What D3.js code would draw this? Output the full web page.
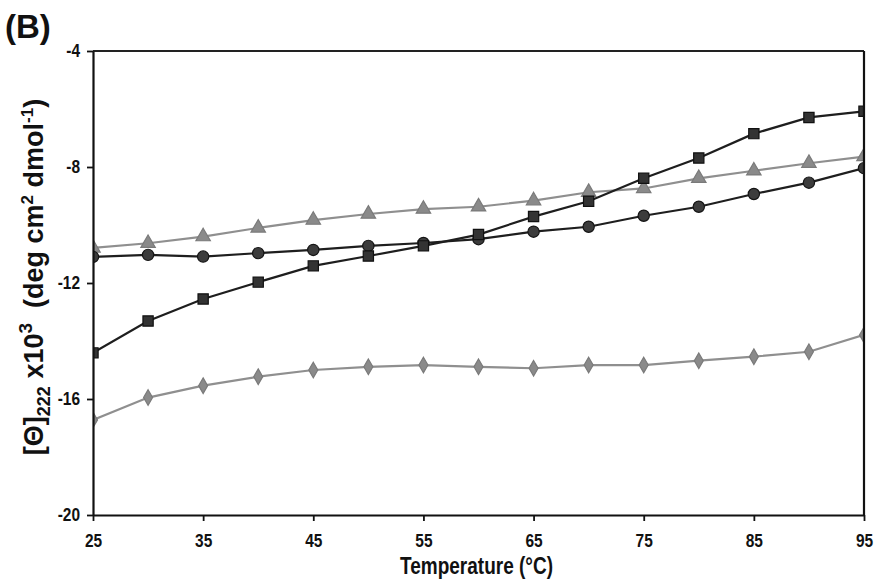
<!DOCTYPE html>
<html>
<head>
<meta charset="utf-8">
<script src="https://cdn.jsdelivr.net/npm/d3@7"></script>
<style>
  body { margin: 0; background: #fff; }
  svg { display: block; }
  .tick text { font-family: "Liberation Sans", Arial, sans-serif; font-weight: bold; font-size: 18px; fill: #111; }
</style>
</head>
<body>
<svg id="chart" width="876" height="587"></svg>
<script>
// temperature points (°C)
var temps = [25, 30, 35, 40, 45, 50, 55, 60, 65, 70, 75, 80, 85, 90, 95];
// [Θ]222 x10^3 values for each sample
var squares   = [-14.41, -13.31, -12.55, -11.97, -11.41, -11.07, -10.72, -10.33, -9.71, -9.18, -8.39, -7.69, -6.85, -6.29, -6.08];
var circles   = [-11.10, -11.03, -11.09, -10.97, -10.86, -10.72, -10.62, -10.49, -10.23, -10.06, -9.68, -9.37, -8.93, -8.54, -8.04];
var triangles = [-10.79, -10.63, -10.40, -10.10, -9.83, -9.62, -9.45, -9.37, -9.16, -8.87, -8.74, -8.39, -8.13, -7.87, -7.64];
var diamonds  = [-16.72, -15.95, -15.54, -15.23, -15.00, -14.89, -14.83, -14.89, -14.94, -14.83, -14.83, -14.68, -14.54, -14.37, -13.79];
var xTicks = [25, 35, 45, 55, 65, 75, 85, 95];
var yTicks = [-20, -16, -12, -8, -4];

var margin = {left: 93, right: 12, top: 51, bottom: 72};
var width = 876 - margin.left - margin.right;
var height = 587 - margin.top - margin.bottom;
// squeeze factor to imitate the narrow bold font of the original
var narrow = 0.86;

var svg = d3.select('#chart');
var g = svg.append('g').attr('transform', 'translate(' + margin.left + ',' + margin.top + ')');

var x = d3.scaleLinear().domain([25, 95]).range([0, width]);
var y = d3.scaleLinear().domain([-20, -4]).range([height, 0]);

g.append('clipPath').attr('id', 'plotclip')
  .append('rect').attr('width', width).attr('height', height);

// series, gray ones first so the dark lines sit on top
var series = [
  {values: diamonds,  shape: d3.symbolDiamond,  size: 70,  line: '#8f8f8f', fill: '#8a8a8a', stroke: '#7a7a7a'},
  {values: triangles, shape: d3.symbolTriangle, size: 90,  line: '#8f8f8f', fill: '#8a8a8a', stroke: '#7a7a7a'},
  {values: circles,   shape: d3.symbolCircle,   size: 100, line: '#1e1e1e', fill: '#3c3c3c', stroke: '#151515'},
  {values: squares,   shape: d3.symbolSquare,   size: 105, line: '#1e1e1e', fill: '#333333', stroke: '#111111'}
];

var plot = g.append('g').attr('clip-path', 'url(#plotclip)');
var line = d3.line()
  .x(function(d, i) { return x(temps[i]); })
  .y(function(d) { return y(d); });

series.forEach(function(s) {
  plot.append('path')
    .attr('d', line(s.values))
    .attr('fill', 'none')
    .attr('stroke', s.line)
    .attr('stroke-width', 2.2);
});
series.forEach(function(s) {
  plot.selectAll(null)
    .data(s.values)
    .enter()
    .append('path')
    .attr('transform', function(d, i) { return 'translate(' + x(temps[i]) + ',' + y(d) + ')'; })
    .attr('d', d3.symbol().type(s.shape).size(s.size))
    .attr('fill', s.fill)
    .attr('stroke', s.stroke)
    .attr('stroke-width', 1.2);
});

// frame top + right
g.append('line').attr('x1', 0).attr('x2', width).attr('y1', 0).attr('y2', 0)
  .attr('stroke', '#222').attr('stroke-width', 1.8);
g.append('line').attr('x1', width).attr('x2', width).attr('y1', 0).attr('y2', height)
  .attr('stroke', '#111').attr('stroke-width', 2.2);

var fmt = function(d) { return String(d); };
var xAxis = g.append('g').attr('transform', 'translate(0,' + height + ')')
  .call(d3.axisBottom(x).tickValues(xTicks).tickFormat(fmt).tickSize(6).tickPadding(13).tickSizeOuter(0));
var yAxis = g.append('g')
  .call(d3.axisLeft(y).tickValues(yTicks).tickFormat(fmt).tickSize(6).tickPadding(7).tickSizeOuter(0));
[xAxis, yAxis].forEach(function(a) {
  a.select('.domain').attr('stroke', '#111').attr('stroke-width', 2.2);
  a.selectAll('.tick line').attr('stroke', '#111').attr('stroke-width', 1.8);
});
xAxis.selectAll('.tick text').attr('transform', 'scale(' + narrow + ',1)');
yAxis.selectAll('.tick text')
  .attr('x', -13 / narrow)
  .attr('transform', 'scale(' + narrow + ',1)');

// x title
svg.append('text')
  .attr('x', 400).attr('y', 574)
  .attr('textLength', 153).attr('lengthAdjust', 'spacingAndGlyphs')
  .style('font-family', '"Liberation Sans", Arial, sans-serif')
  .style('font-weight', 'bold').style('font-size', '23px').style('fill', '#111')
  .text('Temperature (°C)');

// y title with sub/superscripts
var yt = svg.append('text')
  .attr('transform', 'translate(43,277) rotate(-90)')
  .attr('text-anchor', 'middle')
  .style('font-family', '"Liberation Sans", Arial, sans-serif')
  .style('font-weight', 'bold').style('font-size', '27px').style('fill', '#111');
yt.append('tspan').text('[Θ]');
yt.append('tspan').attr('dy', 7).style('font-size', '18px').text('222');
yt.append('tspan').attr('dy', -7).text(' x10');
yt.append('tspan').attr('dy', -11).style('font-size', '19px').text('3');
yt.append('tspan').attr('dy', 11).text('\u00a0\u00a0(deg cm');
yt.append('tspan').attr('dy', -10).style('font-size', '17px').text('2');
yt.append('tspan').attr('dy', 10).text(' dmol');
yt.append('tspan').attr('dy', -10).style('font-size', '17px').text('-1');
yt.append('tspan').attr('dy', 10).text(')');

// panel label
svg.append('text')
  .attr('x', 5).attr('y', 38)
  .style('font-family', '"Liberation Sans", Arial, sans-serif')
  .style('font-weight', 'bold').style('font-size', '33px').style('fill', '#111')
  .text('(B)');
</script>
</body>
</html>
